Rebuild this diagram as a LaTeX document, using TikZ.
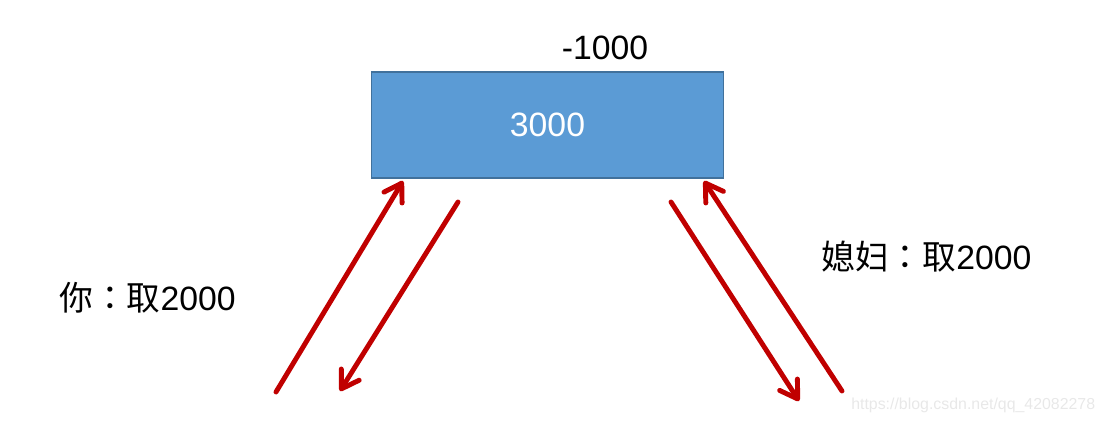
\documentclass[tikz,border=0pt]{standalone}
\usepackage{fontspec}
\setmainfont{Liberation Sans}
\newfontfamily\cjk{Noto Sans CJK SC}
\newfontfamily\cjkpunct{Noto Sans CJK TC}
\usetikzlibrary{arrows.meta}

\definecolor{boxblue}{HTML}{5B9BD5}
\definecolor{boxedge}{HTML}{41719C}
\definecolor{arrowred}{HTML}{C00000}

\begin{document}
\begin{tikzpicture}[x=0.025cm, y=-0.025cm]
    \useasboundingbox (0,0) rectangle (1104,423);
    \tikzset{
      Account/.style = {draw=boxedge, fill=boxblue, line width=1pt,
        minimum width=8.8cm, minimum height=2.65cm, inner sep=0pt,
        text=white, font=\fontsize{24}{29}\selectfont},
      Label/.style = {font=\fontsize{24}{29}\selectfont, inner sep=0pt},
      Flow/.style = {draw=arrowred, line width=3.5pt, line cap=round,
        -{Straight Barb[length=12pt, width=15pt, line cap=round, round]}}
    }

    % Account
    \node[Account] (acct) at (547.5,125) {3000};
    \node[Label] (minus) at (605,48) {-1000};

    % Labels
    \node[Label, anchor=west] (you) at (59,298) {{\cjk 你}{\cjkpunct ：}{\cjk 取}2000};
    \node[Label, anchor=west] (wife) at (821,257) {{\cjk 媳妇}{\cjkpunct ：}{\cjk 取}2000};

    % Ends of the connectors
    \coordinate (youA) at (276,392);
    \coordinate (youB) at (403,181);
    \coordinate (youC) at (458,202);
    \coordinate (youD) at (340,391);
    \coordinate (wifeA) at (671,202);
    \coordinate (wifeB) at (799,401);
    \coordinate (wifeC) at (842,391);
    \coordinate (wifeD) at (704,181);

    % Connectors
    \foreach \s/\t in {youA/youB, youC/youD, wifeA/wifeB, wifeC/wifeD}
      \draw[Flow] (\s) -- (\t);

    \node[anchor=west, inner sep=0pt, text=black!9, font=\fontsize{11.3}{13}\selectfont]
      (mark) at (851,405) {https://blog.csdn.net/qq\_42082278};
\end{tikzpicture}
\end{document}
